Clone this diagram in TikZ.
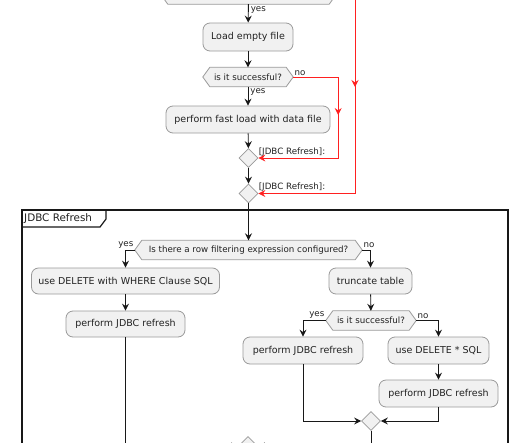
\documentclass[tikz,border=0pt]{standalone}
\usepackage{fontspec}
\setmainfont{DejaVu Sans}
\usetikzlibrary{arrows.meta,shapes.geometric,backgrounds,decorations.markings,calc}
\definecolor{boxfill}{HTML}{F1F1F1}
\definecolor{boxline}{HTML}{9A9A9A}
\definecolor{txt}{HTML}{222222}
\definecolor{arrcol}{HTML}{181818}
\definecolor{redline}{HTML}{FF2020}
\newcommand\hexshape[1]{%
  \begin{scope}[on background layer]
  \path[draw=boxline, fill=boxfill, line width=0.8pt] (#1.west) -- ([xshift=7pt]#1.north west) -- ([xshift=-7pt]#1.north east) -- (#1.east) -- ([xshift=-7pt]#1.south east) -- ([xshift=7pt]#1.south west) -- cycle;
  \end{scope}}
\begin{document}
\begin{tikzpicture}[x=1pt,y=-1pt,
  box/.style={draw=boxline, fill=boxfill, line width=0.8pt, rounded corners=7pt, minimum height=27pt, inner sep=0pt, font=\fontsize{9.5}{11}\selectfont, text=txt},
  decnode/.style={minimum height=19pt, inner sep=0pt, font=\fontsize{8.7}{10}\selectfont, text=txt},
  merge/.style={diamond, draw=boxline, fill=boxfill, line width=0.8pt, minimum width=19pt, minimum height=19pt, inner sep=0pt},
  lbl/.style={font=\fontsize{8.7}{10}\selectfont, text=txt, inner sep=0pt},
  arr/.style={draw=arrcol, line width=0.9pt, -{Stealth[length=7pt,width=7pt,inset=2.5pt]}},
  redarr/.style={draw=redline, line width=0.8pt, -{Stealth[length=7pt,width=7pt,inset=2.5pt]},
    postaction={decorate}, decoration={markings, mark=at position #1 with {\arrow[redline]{Stealth[length=7pt,width=7pt,inset=2.5pt]}}}},
  frameline/.style={draw=arrcol, line width=1.2pt},
  title/.style={font=\fontsize{10.4}{12}\selectfont, text=txt, inner sep=0pt}
]
\useasboundingbox (0,0) rectangle (530,442);
\clip (0,0) rectangle (530,442);
\begin{scope}[on background layer]
\fill[white] (0,0) rectangle (530,442);
\end{scope}

% upper part
\node[decnode, minimum width=175pt] (q0) at (248.5,-5.5) {};
\hexshape{q0}
\node[box, minimum width=90pt, minimum height=28pt] (load) at (248,37) {Load empty file};
\node[decnode, minimum width=90pt] (q1) at (248,77) {is it successful?};
\hexshape{q1}
\node[box, minimum width=164pt] (fast) at (248,119.5) {perform fast load with data file};
\node[merge] (d1) at (248.5,158) {};
\node[merge] (d2) at (248.5,193.5) {};
\coordinate (r2) at (355,-10);

\draw[arr] (q0) -- node[lbl, anchor=west, pos=0.3, xshift=2pt] {yes} (load);
\draw[arr] (load) -- (q1);
\draw[arr] (q1) -- node[lbl, anchor=west, pos=0.28, xshift=2pt] {yes} (fast);
\draw[arr] (fast) -- (d1);
\draw[arr] (d1) -- (d2);
\draw[redarr=83pt] (q1.east) node[lbl, anchor=south west, xshift=1pt, yshift=1pt] {no} -- ++(45,0) |- (d1.east) node[lbl, anchor=south west, yshift=1.5pt] {[JDBC Refresh]:};
\draw[redarr=97pt] (r2) |- (d2.east) node[lbl, anchor=south west, yshift=1.5pt] {[JDBC Refresh]:};

% partition
\draw[frameline] (22,210) rectangle (508,480);
\draw[frameline] (22,227) -- (100,227) -- (106,219) -- (106,210);
\node[title, anchor=west] (ttl) at (24,218.5) {JDBC Refresh};

\node[decnode, minimum width=227pt] (q2) at (248.5,250) {Is there a row filtering expression configured?};
\hexshape{q2}
\node[box, minimum width=188pt, minimum height=26pt] (del) at (125.5,281) {use DELETE with WHERE Clause SQL};
\node[box, minimum width=119pt, minimum height=26pt] (perf1) at (125.5,324) {perform JDBC refresh};
\node[box, minimum width=83pt, minimum height=26pt] (trunc) at (370.5,281) {truncate table};
\node[decnode, minimum width=90pt] (q3) at (371,320.5) {is it successful?};
\hexshape{q3}
\node[box, minimum width=120pt] (perf2) at (303,350.5) {perform JDBC refresh};
\node[box, minimum width=101pt] (usedel) at (438.5,350.5) {use DELETE * SQL};
\node[box, minimum width=119pt] (perf3) at (438.5,393.5) {perform JDBC refresh};
\node[merge] (d3) at (371,421) {};
\node[merge] (d4) at (248,446) {};

\draw[arr] (d2) -- (q2);
\draw[arr] (q2.west) node[lbl, anchor=south east, xshift=-1pt, yshift=1.5pt] {yes} -| (del.north);
\draw[arr] (q2.east) node[lbl, anchor=south west, xshift=1pt, yshift=1.5pt] {no} -| (trunc.north);
\draw[arr] (del) -- (perf1);
\draw[arr] (perf1) |- (d4);
\draw[arr] (trunc) -- (q3);
\draw[arr] (q3.west) node[lbl, anchor=south east, xshift=-1pt, yshift=1.5pt] {yes} -| (perf2.north);
\draw[arr] (q3.east) node[lbl, anchor=south west, xshift=1pt, yshift=1.5pt] {no} -| (usedel.north);
\draw[arr] (usedel) -- (perf3);
\draw[arr] (perf2) |- (d3);
\draw[arr] (perf3) |- (d3);
\draw[arr] (d3) |- (d4);
\end{tikzpicture}
\end{document}
